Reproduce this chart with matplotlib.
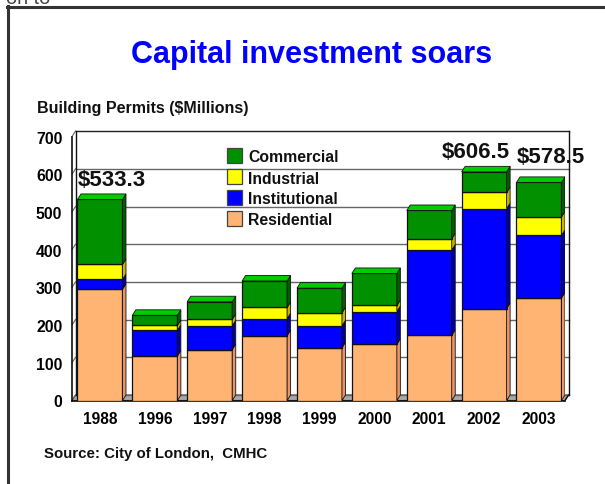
import matplotlib
matplotlib.use("Agg")
import matplotlib.pyplot as plt
from matplotlib.patches import Polygon, Rectangle
from matplotlib.lines import Line2D

plt.rcParams['font.family'] = ['Liberation Sans', 'DejaVu Sans']

# ---------------- data ----------------
years = ['1988', '1996', '1997', '1998', '1999', '2000', '2001', '2002', '2003']
residential   = [295, 118, 135, 172, 140, 149, 173, 244, 272]
institutional = [26, 68, 63, 45, 58, 87, 226, 265, 166]
industrial    = [40, 13, 17, 30, 35, 16, 30, 43, 49]
commercial    = [172.3, 27, 47, 70, 65, 85, 75, 54.5, 91.5]
series_names = ['Residential', 'Institutional', 'Industrial', 'Commercial']
labelled = {0: '$533.3', 7: '$606.5', 8: '$578.5'}
y_ticks = [0, 100, 200, 300, 400, 500, 600, 700]

# ---------------- styles ----------------
front_colors = {'Residential': '#FFB473', 'Institutional': '#0000FF',
                'Industrial': '#FFFF00', 'Commercial': '#009000'}
side_colors = {'Residential': '#E8946A', 'Institutional': '#0000A8',
               'Industrial': '#C8B400', 'Commercial': '#005E00'}
top_color = '#00CC00'

W, H = 605, 485
fig = plt.figure(figsize=(W / 100, H / 100), dpi=100)

# axes geometry (pixels)
ax_left, ax_right = 72, 565
ax_bottom, ax_top = 401.5, 137.6
ax = fig.add_axes([ax_left / W, 1 - ax_bottom / H,
                   (ax_right - ax_left) / W, (ax_bottom - ax_top) / H])
xmin, xmax = -0.51, 8.474
ymin, ymax = 0, 700
ax.set_xlim(xmin, xmax)
ax.set_ylim(ymin, ymax)
for s in ax.spines.values():
    s.set_visible(False)
ax.patch.set_alpha(0)

px_per_x = (ax_right - ax_left) / (xmax - xmin)
px_per_y = (ax_bottom - ax_top) / (ymax - ymin)
ddx = 3.5 / px_per_x
ddy = 5.5 / px_per_y

# floor
ax.add_patch(Polygon([(xmin, 0), (xmax, 0), (xmax + ddx, ddy), (xmin + ddx, ddy)],
                     closed=True, facecolor='#A8A8A8', edgecolor='#333333',
                     lw=0.8, zorder=1, clip_on=False))
# back wall gridlines
for v in y_ticks:
    c = '#222222' if v == 700 else '#666666'
    ax.plot([xmin + ddx, xmax + ddx], [v + ddy, v + ddy], color=c, lw=1.0,
            zorder=1.5, clip_on=False)
    ax.plot([xmin, xmin + ddx], [v, v + ddy], color='#666666', lw=0.8,
            zorder=1.5, clip_on=False)
# wall edges
ax.plot([xmin, xmin], [0, 700], color='#111111', lw=1.2, zorder=2, clip_on=False)
ax.plot([xmin + ddx, xmin + ddx], [ddy, 700 + ddy], color='#111111', lw=1.0, zorder=2, clip_on=False)
ax.plot([xmax + ddx, xmax + ddx], [ddy, 700 + ddy], color='#111111', lw=1.0, zorder=2, clip_on=False)
ax.plot([xmin, xmax], [0, 0], color='#111111', lw=1.2, zorder=2, clip_on=False)
ax.plot([xmax, xmax + ddx], [0, ddy], color='#111111', lw=1.0, zorder=2, clip_on=False)

# bars
series = {'Residential': residential, 'Institutional': institutional,
          'Industrial': industrial, 'Commercial': commercial}
bw = 0.82
xs = list(range(len(years)))
bottoms = [0.0] * len(years)
for name in series_names:
    vals = series[name]
    ax.bar(xs, vals, width=bw, bottom=bottoms, color=front_colors[name],
           edgecolor='#111111', linewidth=0.9, zorder=3)
    for i, (b, v) in enumerate(zip(bottoms, vals)):
        xr = i + bw / 2
        ax.add_patch(Polygon([(xr, b), (xr + ddx, b + ddy), (xr + ddx, b + v + ddy), (xr, b + v)],
                             closed=True, facecolor=side_colors[name],
                             edgecolor='#111111', lw=0.6, zorder=3))
    bottoms = [b + v for b, v in zip(bottoms, vals)]
# top faces
for i, t in enumerate(bottoms):
    xl, xr = i - bw / 2, i + bw / 2
    ax.add_patch(Polygon([(xl, t), (xl + ddx, t + ddy), (xr + ddx, t + ddy), (xr, t)],
                         closed=True, facecolor=top_color, edgecolor='#111111',
                         lw=0.6, zorder=3))

# total labels
lab_style = dict(fontsize=16, fontweight='bold', color='#111111', zorder=5)
ax.text(0 - bw / 2, bottoms[0] + 54, labelled[0], ha='left', va='center', **lab_style)
ax.text(7 - 0.15, bottoms[7] + 55, labelled[7], ha='center', va='center', **lab_style)
ax.text(8 + 0.22, bottoms[8] + 70, labelled[8], ha='center', va='center', **lab_style)

# ticks
ax.set_yticks(y_ticks)
ax.set_yticklabels([str(v) for v in y_ticks], fontsize=11.4, fontweight='bold')
ax.set_xticks(xs)
ax.set_xticklabels(years, fontsize=11.2, fontweight='bold')
ax.tick_params(axis='y', length=0, pad=7)
ax.tick_params(axis='x', length=0, pad=7.5)

# legend (manual)
legend_items = ['Commercial', 'Industrial', 'Institutional', 'Residential']
for k, name in enumerate(legend_items):
    cy = 156.8 + 21.0 * k
    fig.patches.append(Rectangle(((226.7) / W, 1 - (cy + 7.5) / H), 15 / W, 15 / H,
                                 transform=fig.transFigure, facecolor=front_colors[name],
                                 edgecolor='#444444', lw=0.9, zorder=6))
    fig.text(248 / W, 1 - (cy + 1.2) / H, name, fontsize=11.3, fontweight='bold',
             ha='left', va='center', color='#111111', zorder=6)

# titles
fig.text(312 / W, 1 - 63 / H, 'Capital investment soars', fontsize=22, fontweight='bold',
         color='#0000FF', ha='center', va='baseline')
fig.text(37 / W, 1 - 112.7 / H, 'Building Permits ($Millions)', fontsize=11.5,
         fontweight='bold', color='#111111', ha='left', va='baseline')
fig.text(44 / W, 1 - 458.5 / H, 'Source: City of London,  CMHC', fontsize=10.8,
         fontweight='bold', color='#111111', ha='left', va='baseline')
fig.text(6 / W, 1 - 4 / H, 'on to', fontsize=14.4, color='#444444', ha='left',
         va='baseline')

# frame
fig.add_artist(Line2D([7.5 / W, 7.5 / W], [0, 1 - 7 / H], transform=fig.transFigure,
                      color='#333333', lw=2.2))
fig.add_artist(Line2D([6.5 / W, 1], [1 - 8.3 / H, 1 - 8.3 / H], transform=fig.transFigure,
                      color='#333333', lw=2.2))

fig.savefig('out.png', dpi=100)
